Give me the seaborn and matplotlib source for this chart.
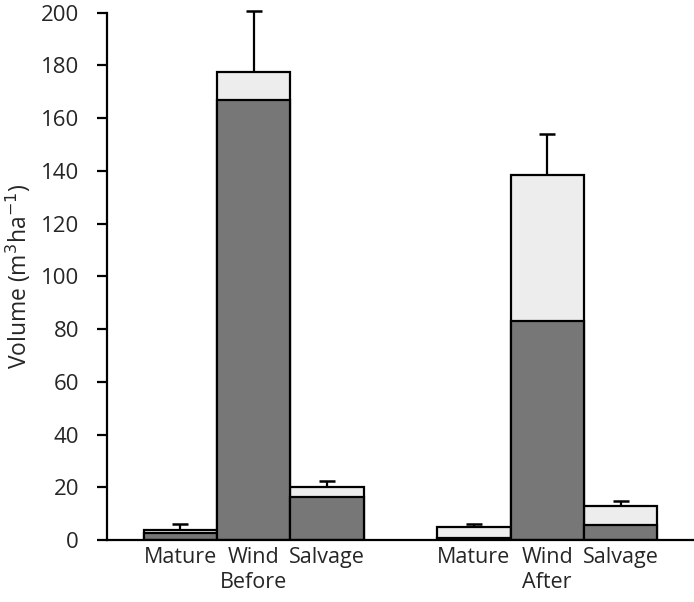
import matplotlib
matplotlib.use("Agg")
import matplotlib.pyplot as plt
import matplotlib.transforms as mtransforms
import numpy as np
import pandas as pd
import seaborn as sns

# Stand volume by stand type, before and after the storm
periods = ["Before", "After"]
stand_types = ["Mature", "Wind", "Salvage"]
dark_volume = [2.7, 167.0, 16.2, 0.6, 83.0, 5.7]      # lower (dark) component
total_volume = [3.9, 177.3, 20.2, 5.0, 138.5, 13.0]   # full stacked height
upper_error = [2.2, 23.5, 2.0, 1.2, 15.3, 1.9]

y_ticks = [0, 20, 40, 60, 80, 100, 120, 140, 160, 180, 200]

DARK = "#777777"
LIGHT = "#ededed"

sns.set_theme(style="white")
plt.rcParams["font.family"] = ["Open Sans", "DejaVu Sans"]

slots = [f"{p}|{s}" for p in periods for s in stand_types]
order = slots[:3] + ["gap"] + slots[3:]
df = pd.DataFrame({"slot": slots, "dark": dark_volume,
                   "total": total_volume, "err": upper_error})

fig = plt.figure(figsize=(6.94, 6.02), dpi=100)
ax = fig.add_axes([0.154, 0.103, 0.846, 0.876])

bar_kw = dict(order=order, width=1.0, edgecolor="black", linewidth=1.6,
              errorbar=None, ax=ax)
sns.barplot(data=df, x="slot", y="total", color=LIGHT, saturation=1, **bar_kw)
n_total = len(ax.patches)
sns.barplot(data=df, x="slot", y="dark", color=DARK, saturation=1, **bar_kw)

# Upper-only error bars centred on the stacked bars
centers = [p.get_x() + p.get_width() / 2 for p in ax.patches[:n_total]]
_, caps, _ = ax.errorbar(centers, df["total"],
                         yerr=[np.zeros(len(df)), df["err"]],
                         fmt="none", ecolor="black", elinewidth=1.6,
                         capsize=5.5, capthick=1.8, clip_on=False, zorder=3)
caps[0].set_visible(False)   # hide the cap sitting on the bar top
for c in caps:
    c.set_clip_on(False)

ax.set_ylim(0, 200)
ax.set_xlim(-1, 7)
ax.set_yticks(y_ticks)
ax.set_yticklabels([str(v) for v in y_ticks], fontsize=16)

tick_pos = [order.index(s) for s in slots]
ax.set_xticks(tick_pos)
ax.set_xticklabels(stand_types * 2, fontsize=15.5)
ax.tick_params(axis="x", length=0, pad=5)
ax.tick_params(axis="y", length=7, width=1.6, direction="out", left=True,
               pad=13, color="black")

trans = mtransforms.blended_transform_factory(ax.transData, ax.transAxes)
for i, p in enumerate(periods):
    xc = np.mean(tick_pos[3 * i:3 * i + 3])
    ax.text(xc, -0.08, p, transform=trans, ha="center", va="center",
            fontsize=15.5)

ax.set_xlabel("")
ax.set_ylabel("Volume (m$^3$ha$^{-1}$)", fontsize=16.5, labelpad=6)

for side in ["top", "right"]:
    ax.spines[side].set_visible(False)
for side in ["left", "bottom"]:
    ax.spines[side].set_color("black")
    ax.spines[side].set_linewidth(1.6)
ax.grid(False)

fig.savefig("out.png", dpi=100)
